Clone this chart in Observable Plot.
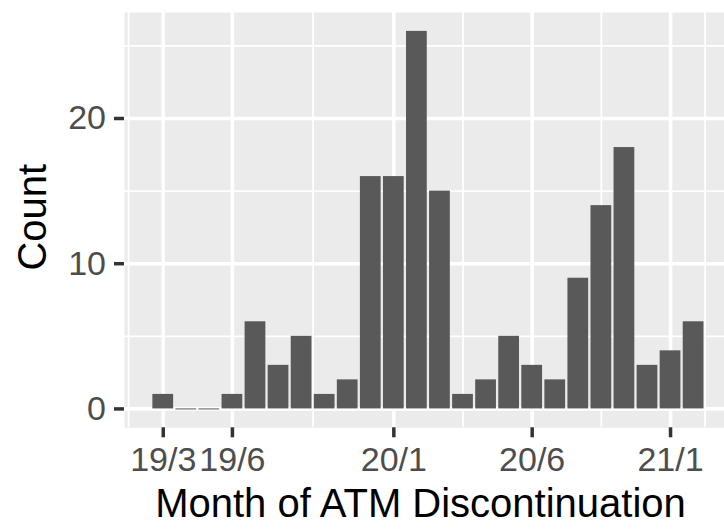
<!DOCTYPE html>
<html>
<head>
<meta charset="utf-8">
<script src="https://cdn.jsdelivr.net/npm/d3@7"></script>
<script src="https://cdn.jsdelivr.net/npm/@observablehq/plot@0.6"></script>
<style>
  html, body { margin: 0; padding: 0; background: #ffffff; }
  #chart { width: 724px; height: 529px; overflow: hidden; }
</style>
</head>
<body>
<div id="chart"></div>
<script>
// Month index (0 = first month bin), one bar per month
const monthIndex = [0,1,2,3,4,5,6,7,8,9,10,11,12,13,14,15,16,17,18,19,20,21,22,23];
const counts     = [1,0,0,1,6,3,5,1,2,16,16,26,15,1,2,5,3,2,9,14,18,3,4,6];

// x-axis ticks (in month-index units) and their labels
const xTickValues = [0, 3, 10, 16, 22];
const xTickLabels = ["19/3", "19/6", "20/1", "20/6", "21/1"];
const xMinorGrid  = [-1.5, 6.5, 13, 19, 23.5];

// y-axis ticks
const yTickValues = [0, 10, 20];
const yMinorGrid  = [5, 15, 25];

const xTitle = "Month of ATM Discontinuation";
const yTitle = "Count";

const data = monthIndex.map((m, i) => ({m, count: counts[i]}));
const zeros = data.filter(d => d.count === 0);

const chart = Plot.plot({
  width: 724,
  height: 529,
  marginLeft: 124,
  marginRight: 0,
  marginTop: 12,
  marginBottom: 101.7,
  style: {fontFamily: "'Liberation Sans', Arial, Helvetica, sans-serif", background: "#ffffff", color: "#000"},
  x: {type: "linear", domain: [-1.68, 24.34]},
  y: {type: "linear", domain: [-1.3, 27.3]},
  marks: [
    Plot.frame({fill: "#EBEBEB", stroke: "none"}),
    Plot.ruleX(xMinorGrid, {stroke: "#ffffff", strokeWidth: 1.8}),
    Plot.ruleY(yMinorGrid, {stroke: "#ffffff", strokeWidth: 1.8}),
    Plot.ruleX(xTickValues, {stroke: "#ffffff", strokeWidth: 3.6}),
    Plot.ruleY(yTickValues, {stroke: "#ffffff", strokeWidth: 3.6}),
    Plot.rectY(data, {x1: d => d.m - 0.45, x2: d => d.m + 0.45, y1: 0, y2: "count", fill: "#595959"}),
    Plot.ruleY(zeros, {x1: d => d.m - 0.45, x2: d => d.m + 0.45, y: "count", stroke: "#595959", strokeWidth: 1}),
    Plot.axisX(xTickValues, {
      anchor: "bottom",
      tickSize: 10,
      tickPadding: 9.4,
      strokeWidth: 3.5,
      stroke: "#333333",
      fill: "#4D4D4D",
      fontSize: 34,
      tickFormat: d => xTickLabels[xTickValues.indexOf(d)],
      label: null
    }),
    Plot.axisY(yTickValues, {
      anchor: "left",
      tickSize: 10,
      tickPadding: 8.5,
      strokeWidth: 3.5,
      stroke: "#333333",
      fill: "#4D4D4D",
      fontSize: 34,
      label: null
    }),
    Plot.text([xTitle], {frameAnchor: "bottom", dy: 61.1, lineAnchor: "top", textAnchor: "middle", dx: -4, fontSize: 40, fill: "#000000"}),
    Plot.text([yTitle], {frameAnchor: "left", dx: -91.5, dy: -3, rotate: -90, textAnchor: "middle", lineAnchor: "middle", fontSize: 40, fill: "#000000"})
  ]
});
document.getElementById("chart").appendChild(chart);
</script>
</body>
</html>
